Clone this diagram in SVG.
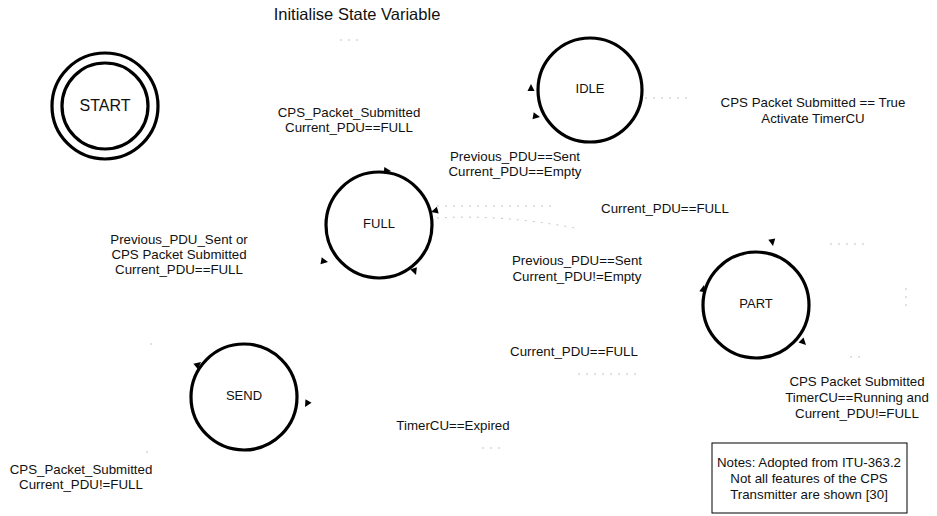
<svg xmlns="http://www.w3.org/2000/svg" xmlns:xlink="http://www.w3.org/1999/xlink" width="937" height="516" viewBox="0 0 937 516">
  <style>
    text { font-family: "Liberation Sans", Arial, sans-serif; fill: #111; text-anchor: middle; dominant-baseline: middle; }
    .lbl { font-size: 13.3px; }
    .node { font-size: 13px; }
    .title { font-size: 16.5px; }
    .state { fill: none; stroke: #000; stroke-width: 3.2; }
    .trace { fill: none; stroke: #c4c4c4; stroke-width: 1; stroke-dasharray: 2 6; }
    .ah { fill: #000; }
    .note { fill: #fff; stroke: #000; stroke-width: 1; }
  </style>
  <defs>
    <path id="ah" d="M0,0 L-7,-3.5 L-7,3.5 Z"/>
  </defs>
  <rect width="937" height="516" fill="#fff"/>

  <!-- faint transition traces -->
  <g id="connectors">
    <path class="trace" d="M340,40 H362"/>
    <path class="trace" d="M645,98 H690"/>
    <path class="trace" d="M437,206 H555"/>
    <path class="trace" d="M437,218 Q500,214 575,228"/>
    <path class="trace" d="M830,244 H865"/>
    <path class="trace" d="M906,288 V312"/>
    <path class="trace" d="M850,357 H862"/>
    <path class="trace" d="M578,374 H642"/>
    <path class="trace" d="M482,448 H506"/>
    <path class="trace" d="M150,344 H154"/>
    <path class="trace" d="M146,452 H152"/>
    <use class="ah" xlink:href="#ah" transform="translate(531,84) rotate(-90)"/>
    <use class="ah" xlink:href="#ah" transform="translate(540,117) rotate(10)"/>
    <use class="ah" xlink:href="#ah" transform="translate(391,171) rotate(5)"/>
    <use class="ah" xlink:href="#ah" transform="translate(431,212) rotate(165)"/>
    <use class="ah" xlink:href="#ah" transform="translate(328,262) rotate(10)"/>
    <use class="ah" xlink:href="#ah" transform="translate(416,275) rotate(70)"/>
    <use class="ah" xlink:href="#ah" transform="translate(773,246) rotate(80)"/>
    <use class="ah" xlink:href="#ah" transform="translate(704,285) rotate(-80)"/>
    <use class="ah" xlink:href="#ah" transform="translate(806,345) rotate(45)"/>
    <use class="ah" xlink:href="#ah" transform="translate(201,362) rotate(-40)"/>
    <use class="ah" xlink:href="#ah" transform="translate(305,407) rotate(120)"/>
  </g>

  <g id="start">
    <circle class="state" cx="105" cy="106" r="53"/>
    <circle class="state" cx="105" cy="106" r="43"/>
    <text x="105" y="107" style="font-size:16px">START</text>
  </g>
  <g id="idle">
    <circle class="state" cx="590" cy="90" r="52"/>
    <text class="node" x="590" y="90">IDLE</text>
  </g>
  <g id="full">
    <circle class="state" cx="379" cy="225" r="53"/>
    <text class="node" x="379" y="225">FULL</text>
  </g>
  <g id="part">
    <circle class="state" cx="756" cy="305" r="53"/>
    <text class="node" x="756" y="305">PART</text>
  </g>
  <g id="send">
    <circle class="state" cx="244" cy="397" r="53"/>
    <text class="node" x="244" y="397">SEND</text>
  </g>

  <g id="labels">
    <text class="title" x="357" y="16">Initialise State Variable</text>
    <text class="lbl" x="349" y="113">CPS_Packet_Submitted</text>
    <text class="lbl" x="349" y="128">Current_PDU==FULL</text>
    <text class="lbl" x="813" y="103">CPS Packet Submitted == True</text>
    <text class="lbl" x="813" y="119">Activate TimerCU</text>
    <text class="lbl" x="515" y="157">Previous_PDU==Sent</text>
    <text class="lbl" x="515" y="172">Current_PDU==Empty</text>
    <text class="lbl" x="665" y="209">Current_PDU==FULL</text>
    <text class="lbl" x="179" y="240">Previous_PDU_Sent or</text>
    <text class="lbl" x="179" y="255">CPS Packet Submitted</text>
    <text class="lbl" x="179" y="270">Current_PDU==FULL</text>
    <text class="lbl" x="577" y="261">Previous_PDU==Sent</text>
    <text class="lbl" x="577" y="277">Current_PDU!=Empty</text>
    <text class="lbl" x="574" y="352">Current_PDU==FULL</text>
    <text class="lbl" x="453" y="426">TimerCU==Expired</text>
    <text class="lbl" x="857" y="382">CPS Packet Submitted</text>
    <text class="lbl" x="857" y="398">TimerCU==Running and</text>
    <text class="lbl" x="857" y="414">Current_PDU!=FULL</text>
    <text class="lbl" x="81" y="470">CPS_Packet_Submitted</text>
    <text class="lbl" x="81" y="485">Current_PDU!=FULL</text>
  </g>

  <g id="notes">
    <rect class="note" x="712" y="443" width="195" height="70"/>
    <text class="lbl" x="809" y="463">Notes: Adopted from ITU-363.2</text>
    <text class="lbl" x="809" y="479">Not all features of the CPS</text>
    <text class="lbl" x="809" y="495">Transmitter are shown [30]</text>
  </g>
</svg>
